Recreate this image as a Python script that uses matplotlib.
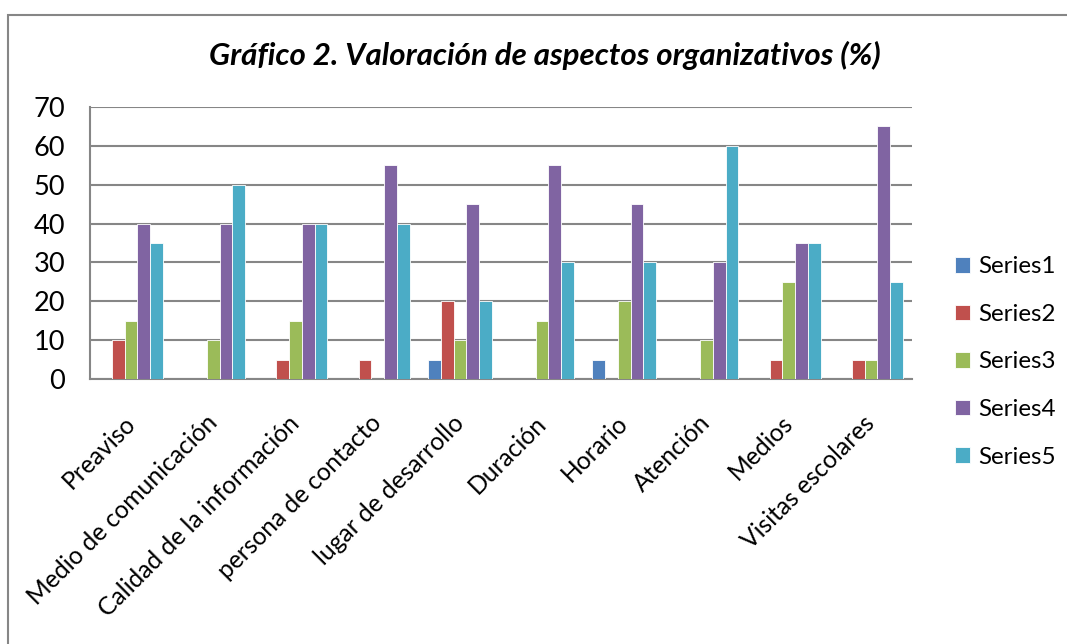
import matplotlib
matplotlib.use("Agg")
import matplotlib.pyplot as plt
import numpy as np
from matplotlib.patches import Rectangle

categories = ["Preaviso", "Medio de comunicación", "Calidad de la información",
              "persona de contacto", "lugar de desarrollo", "Duración", "Horario",
              "Atención", "Medios", "Visitas escolares"]
series1 = [0, 0, 0, 0, 5, 0, 5, 0, 0, 0]
series2 = [10, 0, 5, 5, 20, 0, 0, 0, 5, 5]
series3 = [15, 10, 15, 0, 10, 15, 20, 10, 25, 5]
series4 = [40, 40, 40, 55, 45, 55, 45, 30, 35, 65]
series5 = [35, 50, 40, 40, 20, 30, 30, 60, 35, 25]
series_names = ["Series1", "Series2", "Series3", "Series4", "Series5"]
colors = ["#4F81BD", "#C0504D", "#9BBB59", "#8064A2", "#4BACC6"]

plt.rcParams["font.family"] = ["Lato", "DejaVu Sans"]

fig = plt.figure(figsize=(10.67, 6.44), dpi=100)
ax = fig.add_axes([90 / 1067, 1 - 379 / 644, 822 / 1067, 272 / 644])

x = np.arange(len(categories))
w = 0.155
for i, (vals, name, c) in enumerate(zip([series1, series2, series3, series4, series5],
                                        series_names, colors)):
    ax.bar(x + (i - 2) * w, vals, w, color=c, label=name,
           edgecolor="white", linewidth=0.6, zorder=3)

ax.set_xlim(-0.5, len(categories) - 0.5)
ax.set_ylim(0, 70)
ax.set_yticks(range(0, 71, 10))
ax.yaxis.grid(True, color="#868686", linewidth=1.5, zorder=0)
ax.tick_params(axis="y", length=0, labelsize=19.5, pad=18)
ax.tick_params(axis="x", length=0, labelsize=17.7, pad=29)
ax.set_xticks(x)
ax.set_xticklabels(categories, rotation=45, ha="right", va="center",
                   rotation_mode="anchor")
for s in ["top", "right"]:
    ax.spines[s].set_visible(False)
for s in ["left", "bottom"]:
    ax.spines[s].set_color("#868686")
    ax.spines[s].set_linewidth(1.5)

fig.text(545 / 1067, 1 - 55 / 644, "Gráfico 2. Valoración de aspectos organizativos (%)",
         ha="center", va="center", fontsize=22.5, fontweight="bold", style="italic")

ax.legend(loc="center left", bbox_to_anchor=(945 / 1067, 1 - 362 / 644),
          bbox_transform=fig.transFigure, borderaxespad=0, frameon=False,
          fontsize=17.4, handlelength=0.62, handleheight=0.62, handletextpad=0.35,
          labelspacing=1.1)

fig.patches.append(Rectangle((8 / 1067, -0.01), 1.1, 1 - 15 / 644 + 0.01,
                             transform=fig.transFigure, fill=False,
                             edgecolor="#868686", linewidth=1.5))

fig.savefig("out.png", dpi=100)
